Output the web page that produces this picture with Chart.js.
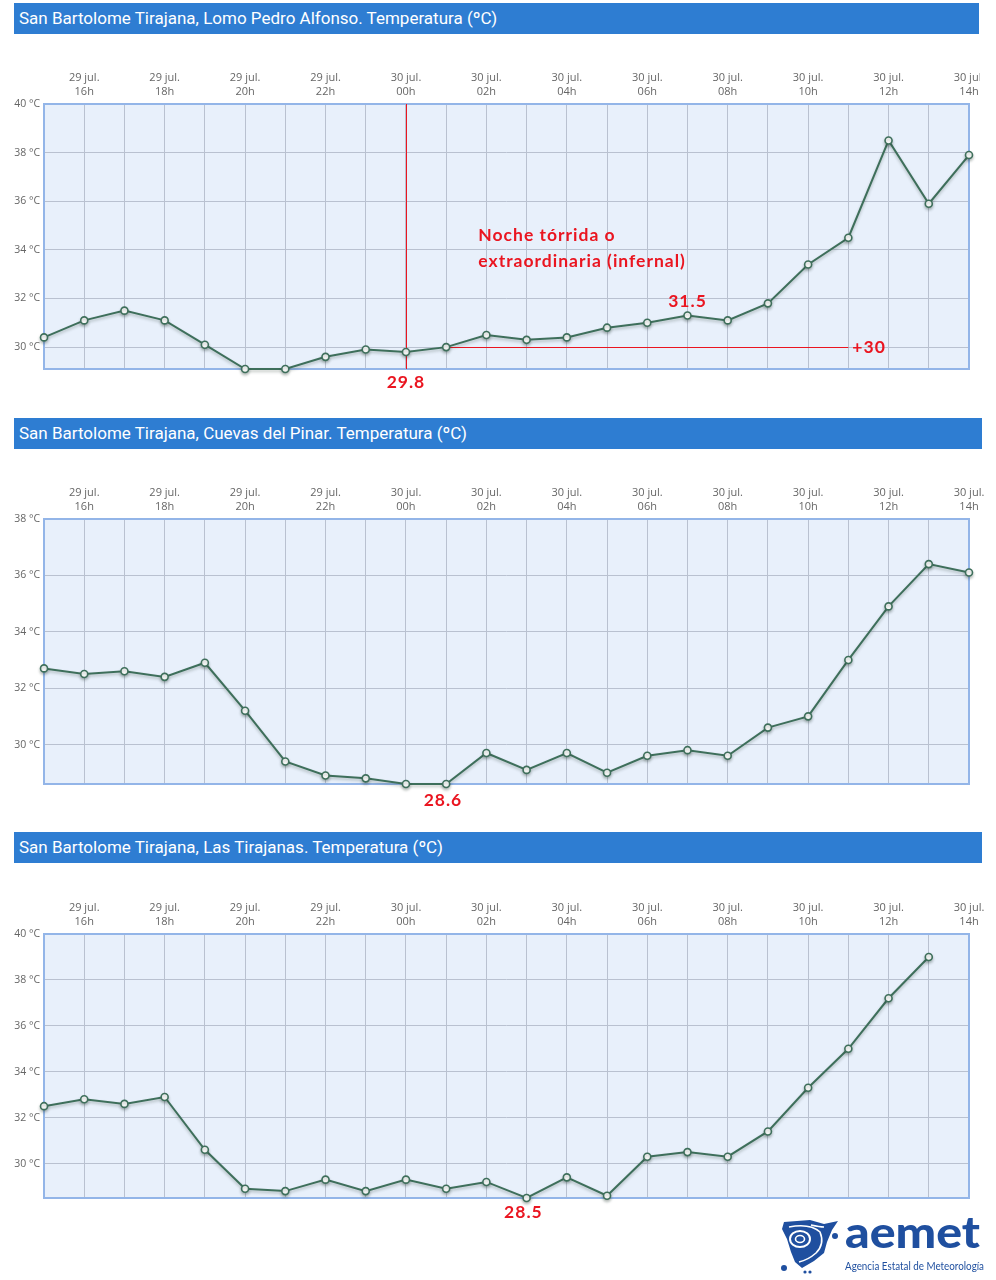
<!DOCTYPE html>
<html lang="es">
<head>
<meta charset="utf-8">
<title>San Bartolome Tirajana - Temperatura</title>
<script src="https://cdn.jsdelivr.net/npm/chart.js@4.4.1/dist/chart.umd.min.js"></script>
<style>
  html, body { margin: 0; padding: 0; background: #fff; }
  body { width: 996px; height: 1280px; position: relative; overflow: hidden; font-family: Roboto, sans-serif; }
  .titulo {
    position: absolute; left: 14px; height: 31px; line-height: 31px;
    background: #2e7dd2; color: #fff; font-size: 17px; padding-left: 5px; box-sizing: border-box;
  }
  .grafico { position: absolute; left: 0; height: 360px; }
  #logo { position: absolute; left: 780px; top: 1215px; }
</style>
</head>
<body>

<div class="titulo" style="top:3px; width:965px;">San Bartolome Tirajana, Lomo Pedro Alfonso. Temperatura (ºC)</div>
<div class="grafico" style="top:40px; width:980px;"><canvas id="lomo" width="980" height="360"></canvas></div>

<div class="titulo" style="top:418px; width:968px;">San Bartolome Tirajana, Cuevas del Pinar. Temperatura (ºC)</div>
<div class="grafico" style="top:455px; width:996px;"><canvas id="cuevas" width="996" height="360"></canvas></div>

<div class="titulo" style="top:832px; width:968px;">San Bartolome Tirajana, Las Tirajanas. Temperatura (ºC)</div>
<div class="grafico" style="top:870px; width:996px;"><canvas id="tirajanas" width="996" height="360"></canvas></div>

<svg id="logo" width="210" height="62" viewBox="0 0 210 62">
  <path d="M4 7 L30 5 L44 9 L58 6 L52 15 L47 27 L44 38 L34 46 L22 53 L15 47 L11 37 L7 24 L2 14 Z" fill="#1f4f9f"/>
  <ellipse cx="20" cy="24" rx="10" ry="8" fill="none" stroke="#fff" stroke-width="2"/>
  <ellipse cx="20" cy="24" rx="4.5" ry="3.5" fill="none" stroke="#fff" stroke-width="1.6"/>
  <path d="M9 12 Q30 8 40 17 Q45 29 36 38 Q28 45 19 47" fill="none" stroke="#fff" stroke-width="1.6"/>
  <path d="M31 10 Q40 12 44 12" fill="none" stroke="#fff" stroke-width="1.4"/>
  <circle cx="55" cy="21" r="3" fill="#1f4f9f"/>
  <circle cx="4" cy="53" r="3" fill="#1f4f9f"/>
  <circle cx="25" cy="57" r="1.6" fill="#1f4f9f"/>
  <circle cx="30" cy="57" r="1.6" fill="#1f4f9f"/>
  <text x="65" y="33" font-family="Lato" font-weight="900" font-size="44" fill="#1f4f9f"
        textLength="135" lengthAdjust="spacingAndGlyphs">aemet</text>
  <text x="65" y="55" font-family="Lato" font-size="10.5" fill="#1f4f9f"
        textLength="139" lengthAdjust="spacingAndGlyphs">Agencia Estatal de Meteorología</text>
</svg>

<script>
// eje x: una medida por hora, 29 jul. 15h a 30 jul. 14h
const dias = ['29 jul.', '29 jul.', '29 jul.', '29 jul.', '29 jul.', '29 jul.', '29 jul.', '29 jul.', '29 jul.',
    '30 jul.', '30 jul.', '30 jul.', '30 jul.', '30 jul.', '30 jul.', '30 jul.', '30 jul.', '30 jul.',
    '30 jul.', '30 jul.', '30 jul.', '30 jul.', '30 jul.', '30 jul.'];
const horas = ['15h', '16h', '17h', '18h', '19h', '20h', '21h', '22h', '23h', '00h', '01h', '02h',
    '03h', '04h', '05h', '06h', '07h', '08h', '09h', '10h', '11h', '12h', '13h', '14h'];

// temperaturas (°C)
const tempLomo = [30.4, 31.1, 31.5, 31.1, 30.1, 29.1, 29.1, 29.6, 29.9, 29.8, 30.0, 30.5,
    30.3, 30.4, 30.8, 31.0, 31.3, 31.1, 31.8, 33.4, 34.5, 38.5, 35.9, 37.9];
const tempCuevas = [32.7, 32.5, 32.6, 32.4, 32.9, 31.2, 29.4, 28.9, 28.8, 28.6, 28.6, 29.7,
    29.1, 29.7, 29.0, 29.6, 29.8, 29.6, 30.6, 31.0, 33.0, 34.9, 36.4, 36.1];
const tempTirajanas = [32.5, 32.8, 32.6, 32.9, 30.6, 28.9, 28.8, 29.3, 28.8, 29.3, 28.9, 29.2,
    28.5, 29.4, 28.6, 30.3, 30.5, 30.3, 31.4, 33.3, 35.0, 37.2, 39.0, null];

// limites del eje y [min, max]
const ejeLomo = [29.1, 40];
const ejeCuevas = [28.6, 38];
const ejeTirajanas = [28.5, 40];

// valores anotados
const umbralNoche = 30;
const minLomo = 29.8;
const maxNocheLomo = 31.5;
const minCuevas = 28.6;
const minTirajanas = 28.5;

const ROJO = '#ea1520';
const fuenteNota = 'bold 17.5px Lato, sans-serif';

function texto(ctx, t, x, y, align) {
    ctx.save();
    ctx.font = fuenteNota;
    ctx.letterSpacing = '1px';
    ctx.fillStyle = ROJO;
    ctx.textAlign = align || 'center';
    ctx.textBaseline = 'middle';
    ctx.fillText(t, x, y);
    ctx.restore();
}

const marco = {
    id: 'marco',
    beforeDraw(chart) {
        const a = chart.chartArea, ctx = chart.ctx;
        ctx.save();
        ctx.fillStyle = '#e8f0fb';
        ctx.fillRect(a.left, a.top, a.right - a.left, a.bottom - a.top);
        ctx.restore();
    },
    beforeDatasetsDraw(chart) {
        const a = chart.chartArea, ctx = chart.ctx;
        ctx.save();
        ctx.strokeStyle = '#93b5e8';
        ctx.lineWidth = 2;
        ctx.strokeRect(a.left, a.top, a.right - a.left, a.bottom - a.top);
        ctx.restore();
    },
    // sombra suave bajo la linea
    beforeDatasetDraw(chart) {
        const ctx = chart.ctx;
        ctx.save();
        ctx.shadowColor = 'rgba(40, 60, 50, 0.3)';
        ctx.shadowBlur = 3;
        ctx.shadowOffsetY = 2;
    },
    afterDatasetDraw(chart) {
        chart.ctx.restore();
    }
};

function crearGrafico(id, valores, eje, padding, notas) {
    return new Chart(document.getElementById(id), {
        type: 'line',
        data: {
            labels: horas,
            datasets: [{
                data: valores,
                borderColor: '#3e6f5b',
                borderWidth: 2,
                pointRadius: 3.5,
                pointBorderWidth: 1.6,
                pointBorderColor: '#3e6f5b',
                pointBackgroundColor: '#fff',
                tension: 0,
                clip: false
            }]
        },
        options: {
            responsive: false,
            animation: false,
            layout: {padding: padding},
            plugins: {legend: {display: false}, tooltip: {enabled: false}},
            scales: {
                x: {
                    position: 'top',
                    offset: false,
                    grid: {color: '#b9c1d0', lineWidth: 1, drawTicks: false},
                    border: {display: false},
                    ticks: {
                        autoSkip: false,
                        maxRotation: 0,
                        padding: 5,
                        color: '#666',
                        font: {family: 'Open Sans', size: 11, lineHeight: 1.3},
                        callback: (v, i) => i % 2 === 1 ? [dias[i], horas[i]] : ''
                    },
                    afterFit(s) {
                        s.height = 64;
                        s.paddingLeft = 0;
                        s.paddingRight = 0;
                    }
                },
                y: {
                    min: eje[0],
                    max: eje[1],
                    grid: {color: '#b9c1d0', lineWidth: 1, drawTicks: false},
                    border: {display: false},
                    ticks: {
                        stepSize: 2,
                        includeBounds: false,
                        padding: 4,
                        color: '#666',
                        font: {family: 'Open Sans', size: 10.5},
                        callback: v => v + ' °C'
                    },
                    afterFit(s) {
                        s.width = 44;
                        s.paddingTop = 0;
                        s.paddingBottom = 0;
                    }
                }
            }
        },
        plugins: [marco, notas]
    });
}

crearGrafico('lomo', tempLomo, ejeLomo, {top: 0, left: 0, right: 11, bottom: 31}, {
    id: 'notasLomo',
    beforeDatasetsDraw(chart) {
        const x = chart.scales.x, y = chart.scales.y, a = chart.chartArea, ctx = chart.ctx;
        ctx.save();
        ctx.strokeStyle = ROJO;
        ctx.lineWidth = 1;
        ctx.beginPath();
        ctx.moveTo(Math.round(x.getPixelForValue(9)) + 0.5, a.top);
        ctx.lineTo(Math.round(x.getPixelForValue(9)) + 0.5, a.bottom);
        ctx.moveTo(x.getPixelForValue(10), Math.round(y.getPixelForValue(umbralNoche)) + 0.5);
        ctx.lineTo(x.getPixelForValue(20), Math.round(y.getPixelForValue(umbralNoche)) + 0.5);
        ctx.stroke();
        ctx.restore();
    },
    afterDatasetsDraw(chart) {
        const x = chart.scales.x, y = chart.scales.y, a = chart.chartArea, ctx = chart.ctx;
        texto(ctx, minLomo.toFixed(1), x.getPixelForValue(9), a.bottom + 13);
        texto(ctx, '+' + umbralNoche, x.getPixelForValue(20) + 4, y.getPixelForValue(umbralNoche), 'left');
        texto(ctx, maxNocheLomo.toFixed(1), x.getPixelForValue(16), y.getPixelForValue(tempLomo[16]) - 14);
        const nx = x.getPixelForValue(10.8), ny = y.getPixelForValue(34.6);
        texto(ctx, 'Noche tórrida o', nx, ny, 'left');
        texto(ctx, 'extraordinaria (infernal)', nx, ny + 26, 'left');
    }
});

crearGrafico('cuevas', tempCuevas, ejeCuevas, {top: 0, left: 0, right: 27, bottom: 31}, {
    id: 'notasCuevas',
    afterDatasetsDraw(chart) {
        const x = chart.scales.x, a = chart.chartArea;
        texto(chart.ctx, minCuevas.toFixed(1), x.getPixelForValue(9.92), a.bottom + 16);
    }
});

crearGrafico('tirajanas', tempTirajanas, ejeTirajanas, {top: 0, left: 0, right: 27, bottom: 32}, {
    id: 'notasTirajanas',
    afterDatasetsDraw(chart) {
        const x = chart.scales.x, a = chart.chartArea;
        texto(chart.ctx, minTirajanas.toFixed(1), x.getPixelForValue(11.92), a.bottom + 14);
    }
});
</script>
</body>
</html>
